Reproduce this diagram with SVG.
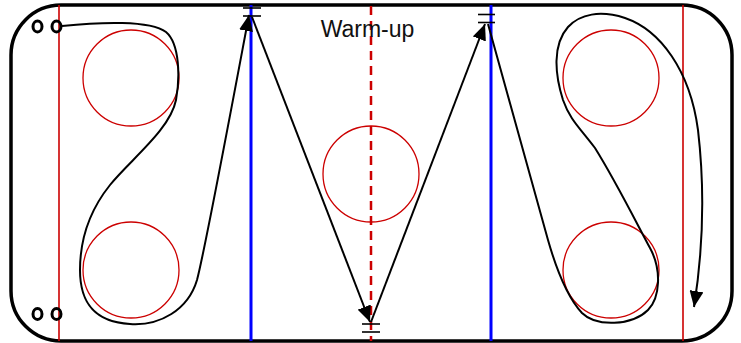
<svg xmlns="http://www.w3.org/2000/svg" width="741" height="343" viewBox="0 0 741 343">
<style>
.rink{fill:#fff;stroke:#000;stroke-width:3.5}
.red{stroke:#cc0000;stroke-width:1.6;fill:none}
.blue{stroke:#0000ff;stroke-width:3;fill:none}
.dash{stroke:#cc0000;stroke-width:2.5;stroke-dasharray:9 6;fill:none}
.circ{fill:none;stroke:#cc0000;stroke-width:1.3}
.path{fill:none;stroke:#000;stroke-width:2}
.tick{stroke:#000;stroke-width:1.6}
.dot{fill:none;stroke:#000;stroke-width:3}
.label{font-family:"Liberation Sans",Arial,sans-serif;font-size:23px;fill:#111}
</style>
<defs>
<marker id="arr" markerUnits="userSpaceOnUse" markerWidth="17" markerHeight="14" refX="16" refY="7" orient="auto">
<path d="M0,0 L16,7 L0,14 z" fill="#000"/>
</marker>
</defs>
<g id="rink">
<rect class="rink" x="11" y="5" width="721" height="336" rx="50" ry="50"/>
<line class="red" x1="59" y1="5" x2="59" y2="341"/>
<line class="red" x1="683" y1="5" x2="683" y2="341"/>
<line class="blue" x1="251" y1="5" x2="251" y2="341"/>
<line class="blue" x1="491" y1="5" x2="491" y2="341"/>
<line class="dash" x1="371" y1="6" x2="371" y2="341"/>
</g>
<g id="circles">
<circle class="circ" cx="131" cy="78" r="48"/>
<circle class="circ" cx="131" cy="270" r="48"/>
<circle class="circ" cx="371" cy="174" r="48"/>
<circle class="circ" cx="611" cy="78" r="48"/>
<circle class="circ" cx="611" cy="270" r="48"/>
</g>
<g id="players">
<ellipse class="dot" cx="37.5" cy="26.5" rx="4.5" ry="5.5"/>
<ellipse class="dot" cx="56.5" cy="26.5" rx="4.5" ry="5.5"/>
<ellipse class="dot" cx="37.5" cy="314" rx="4.5" ry="5.5"/>
<ellipse class="dot" cx="56.5" cy="314" rx="4.5" ry="5.5"/>
</g>
<g id="cones">
<line class="tick" x1="243" y1="8" x2="261" y2="8"/>
<line class="tick" x1="243" y1="16" x2="261" y2="16"/>
<line class="tick" x1="478" y1="14.5" x2="495" y2="14.5"/>
<line class="tick" x1="478" y1="22.5" x2="495" y2="22.5"/>
<line class="tick" x1="362" y1="324" x2="380" y2="324"/>
<line class="tick" x1="362" y1="332" x2="380" y2="332"/>
</g>
<g id="label">
<text class="label" x="367.5" y="37" text-anchor="middle">Warm-up</text>
</g>
<g id="connectors">
<path class="path" marker-end="url(#arr)" d="M62,26 C100,22 150,20 166,32 C180,44 180,78 176,100 C170,130 130,160 110,185 C90,210 80,240 80,270 C80,300 92,322 130,324 C160,326 188,310 197,280 C205,250 232,105 249,15"/>
<path class="path" marker-end="url(#arr)" d="M252,17 L370,322"/>
<path class="path" marker-end="url(#arr)" d="M371,322 L485,24"/>
<path class="path" marker-end="url(#arr)" d="M488,24 L548,240 C556,268 568,298 582,313 C596,327 632,326 648,310 C660,298 662,270 650,248 C635,220 615,180 595,148 C580,128 570,120 563,100 C555,75 552,45 568,27 C580,14 600,10 625,18 C660,30 690,70 698,130 C705,190 703,250 694,307"/>
</g>
</svg>
